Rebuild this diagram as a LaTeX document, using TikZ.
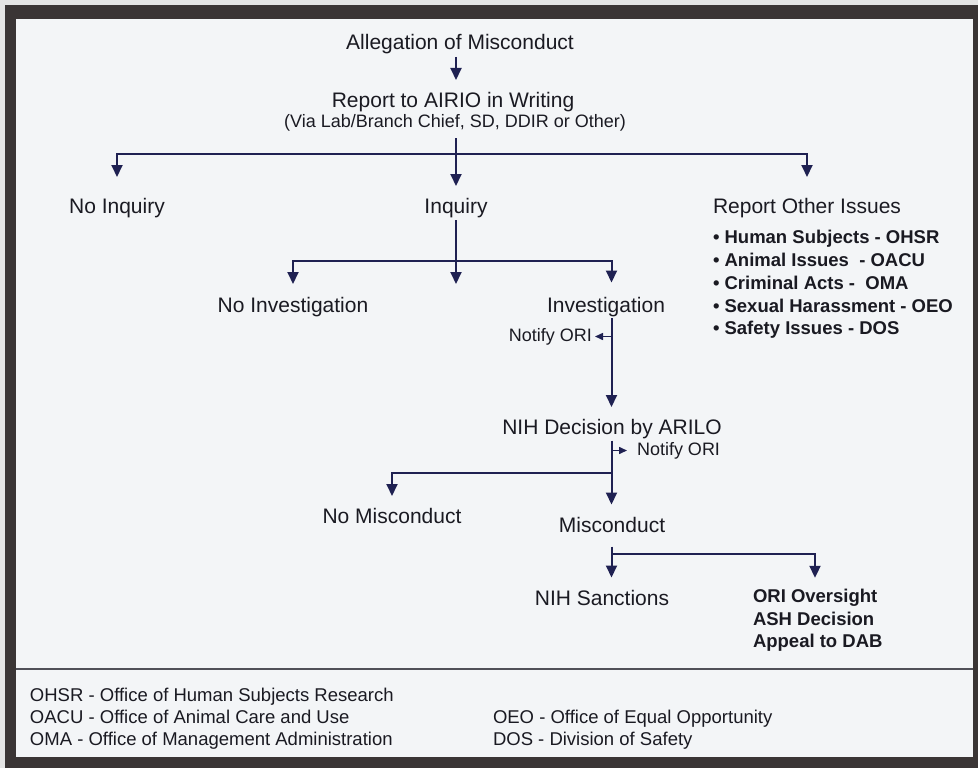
\documentclass[tikz,border=0pt]{standalone}
\usepackage{fontspec}
\setmainfont{Liberation Sans}
\usetikzlibrary{arrows.meta}
\definecolor{navy}{HTML}{1F2152}
\definecolor{ink}{HTML}{1A1A22}
\definecolor{framec}{HTML}{3A3535}
\definecolor{paper}{HTML}{F3F5F7}
\definecolor{outerc}{HTML}{E4E4E4}
\definecolor{sepc}{HTML}{505058}
\newcommand{\fsmain}{\fontsize{21}{25}\selectfont}
\newcommand{\fssmall}{\fontsize{18}{22}\selectfont}
\newcommand{\fsbold}{\fontsize{18.5}{22.5}\selectfont\bfseries}
\newcommand{\fsleg}{\fontsize{18.5}{22}\selectfont}
\begin{document}
\begin{tikzpicture}[x=1pt,y=-1pt,
  txt/.style={inner sep=0pt,outer sep=0pt,text=ink,font=\fsmain,anchor=base,text height=15.5pt,text depth=4.5pt},
  sm/.style={inner sep=0pt,outer sep=0pt,text=ink,font=\fssmall,text height=13pt,text depth=4pt},
  bul/.style={inner sep=0pt,outer sep=0pt,text=ink,font=\fsbold,anchor=base west},
  leg/.style={inner sep=0pt,outer sep=0pt,text=ink,font=\fsleg,anchor=base west},
  ln/.style={draw=navy,line width=2pt},
  arr/.style={ln,-{Triangle[width=11pt,length=12pt]}},
  arrs/.style={ln,line width=1.5pt,-{Triangle[width=7pt,length=8pt]}},
]
\useasboundingbox (0,0) rectangle (978,768);
\fill[outerc] (0,0) rectangle (978,768);
\fill[framec] (5,5) rectangle (978,768);
\fill[paper] (16,19) rectangle (973,757);

% reference coordinates
\coordinate (cx) at (456,0);
\coordinate (c2) at (611.5,0);
\coordinate (c3) at (815,0);
\coordinate (h1) at (456,154);
\coordinate (h2) at (456,261);
\coordinate (t2) at (456,284);
\coordinate (h3) at (611.5,473);
\coordinate (h4) at (611.5,554);

% texts
\node[txt] (alleg) at (460,50) {Allegation of Misconduct};
\node[txt,text depth=3pt] (report) at (453,107) {Report to AIRIO in Writing};
\node[sm,anchor=base,text height=12pt] (via) at (455,128) {(Via Lab/Branch Chief, SD, DDIR or Other)};
\node[txt] (noinq) at (117,213) {No Inquiry};
\node[txt] (inq) at (456,213) {Inquiry};
\node[txt] (other) at (807,213) {Report Other Issues};
\node[bul] (b1) at (713,243) {• Human Subjects - OHSR};
\node[bul] (b2) at (713,266) {• Animal Issues~ - OACU};
\node[bul] (b3) at (713,289) {• Criminal Acts -~ OMA};
\node[bul] (b4) at (713,312) {• Sexual Harassment - OEO};
\node[bul] (b5) at (713,334) {• Safety Issues - DOS};
\node[txt] (noinv) at (293,312) {No Investigation};
\node[txt] (inv) at (606,312) {Investigation};
\node[sm,anchor=base east] (n1) at (592,341) {Notify ORI};
\node[txt] (dec) at (612,434) {NIH Decision by ARILO};
\node[sm,anchor=base west] (n2) at (637,455) {Notify ORI};
\node[txt] (nomis) at (392,523) {No Misconduct};
\node[txt] (misc) at (612,532) {Misconduct};
\node[txt] (sanc) at (602,605) {NIH Sanctions};
\node[inner sep=0pt,outer sep=0pt,text=ink,font=\fsbold,align=left,anchor=north west] (ori) at (753,589.3) {ORI Oversight\\ASH Decision\\Appeal to DAB};

% connectors
\draw[arr,shorten <=2.5pt,shorten >=11.5pt] (alleg.south -| cx) -- (report.north -| cx);
\draw[arr,shorten <=6pt,shorten >=11.5pt] (via.south -| cx) -- (inq.north);
\draw[arr,shorten >=20.5pt] (h1) -| (noinq.north);
\draw[arr,shorten >=20.5pt] (h1) -| (other.north);
\draw[arr,shorten <=2.5pt] (inq.south) -- (t2);
\draw[arr,shorten >=12.5pt] (h2) -| (noinv.north);
\draw[arr,shorten >=14pt] (h2) -| (inv.north -| c2);
\draw[arr,shorten <=1.5pt,shorten >=11.5pt] (inv.south -| c2) -- (dec.north -| c2);
\draw[arrs,shorten >=3pt] (n1.east -| c2) -- (n1.east);
\draw[arr,shorten <=2pt,shorten >=12pt] (dec.south -| c2) -- (misc.north -| c2);
\draw[arrs,shorten >=10pt] (n2.west -| c2) -- (n2.west);
\draw[arr,shorten >=11.5pt] (h3) -| (nomis.north);
\draw[arr,shorten <=10pt,shorten >=12pt] (misc.south -| c2) -- (sanc.north -| c2);
\draw[arr,shorten >=11.5pt] (h4) -| (ori.north -| c3);

% separator and legend
\draw[draw=sepc,line width=1.5pt] (16,669) -- (973,669);
\node[leg] (l1) at (30,701) {OHSR - Office of Human Subjects Research};
\node[leg] (l2) at (30,723) {OACU - Office of Animal Care and Use};
\node[leg] (l3) at (30,745) {OMA - Office of Management Administration};
\node[leg] (l4) at (493,723) {OEO - Office of Equal Opportunity};
\node[leg] (l5) at (493,745) {DOS - Division of Safety};
\end{tikzpicture}
\end{document}
